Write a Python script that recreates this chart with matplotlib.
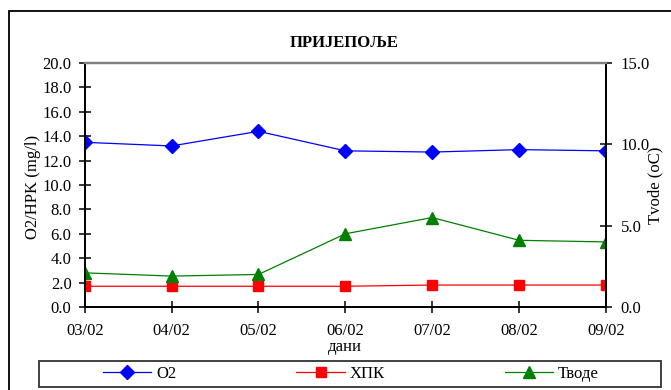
import matplotlib
matplotlib.use("Agg")
import matplotlib.pyplot as plt
from matplotlib.patches import Rectangle
from matplotlib.ticker import FormatStrFormatter

plt.rcParams['font.family'] = ['Liberation Serif', 'DejaVu Serif']
plt.rcParams['font.size'] = 12

days = ['03/02', '04/02', '05/02', '06/02', '07/02', '08/02', '09/02']
o2 = [13.5, 13.2, 14.4, 12.8, 12.7, 12.9, 12.8]
hpk = [1.7, 1.7, 1.7, 1.7, 1.8, 1.8, 1.8]
tvode = [2.1, 1.9, 2.0, 4.5, 5.5, 4.1, 4.0]

W, H = 671, 390
fig = plt.figure(figsize=(W / 100, H / 100), dpi=100)

# outer chart frame
fig.patches.append(Rectangle((9 / W, -0.02), 1.0, 1 - 11 / H + 0.02,
                             transform=fig.transFigure, fill=False,
                             edgecolor='black', lw=1.3))

ax = fig.add_axes([84.7 / W, 1 - 307 / H, (606 - 84.7) / W, (307 - 63) / H])
ax2 = ax.twinx()

x = range(len(days))
l1, = ax.plot(x, o2, color='blue', marker='D', ms=7, lw=0.9, label='O2')
l2, = ax.plot(x, hpk, color='red', marker='s', ms=7.5, lw=0.9, label='ХПК')
l3, = ax2.plot(x, tvode, color='green', marker='^', ms=8, lw=0.9, label='Тводе')

ax.set_xlim(0, len(days) - 1)
ax.set_ylim(0, 20)
ax.set_yticks(range(0, 21, 2))
ax.yaxis.set_major_formatter(FormatStrFormatter('%.1f'))
ax.set_xticks(list(x))
ax.set_xticklabels(days)
ax2.set_ylim(0, 15)
ax2.set_yticks([0, 5, 10, 15])
ax2.yaxis.set_major_formatter(FormatStrFormatter('%.1f'))

for a in (ax, ax2):
    for s in a.spines.values():
        s.set_linewidth(1.3)
        s.set_color('black')
    a.spines['top'].set_color('#808080')
    a.spines['top'].set_linewidth(1.6)
ax.tick_params(axis='both', direction='inout', length=9, width=1.1, pad=5)
ax.tick_params(axis='x', pad=7)
ax2.tick_params(axis='y', direction='inout', length=9, width=1.1, pad=6)

ax.set_xlabel('дани', labelpad=0)
fig.text(33 / W, 1 - 187 / H, 'O2/HPK (mg/l)', rotation=90,
         ha='center', va='center')
fig.text(655 / W, 1 - 185 / H, 'Tvode (oC)', rotation=90,
         ha='center', va='center')

fig.text(344 / W, 1 - 43 / H, 'ПРИЈЕПОЉЕ', ha='center', va='center',
         fontweight='bold')

# legend box below the plot
fig.patches.append(Rectangle((39 / W, 1 - 387 / H), (661 - 39) / W, 26 / H,
                             transform=fig.transFigure, fill=False,
                             edgecolor='#404040', lw=1.4))
fig.legend([l1, l2, l3], ['O2', 'ХПК', 'Тводе'], loc='center',
           bbox_to_anchor=(351 / W, 1 - 374 / H), ncol=3, frameon=False,
           handlelength=2.9, handletextpad=0.3, columnspacing=7.2,
           borderpad=0, numpoints=1)

fig.savefig('out.png', dpi=100)
